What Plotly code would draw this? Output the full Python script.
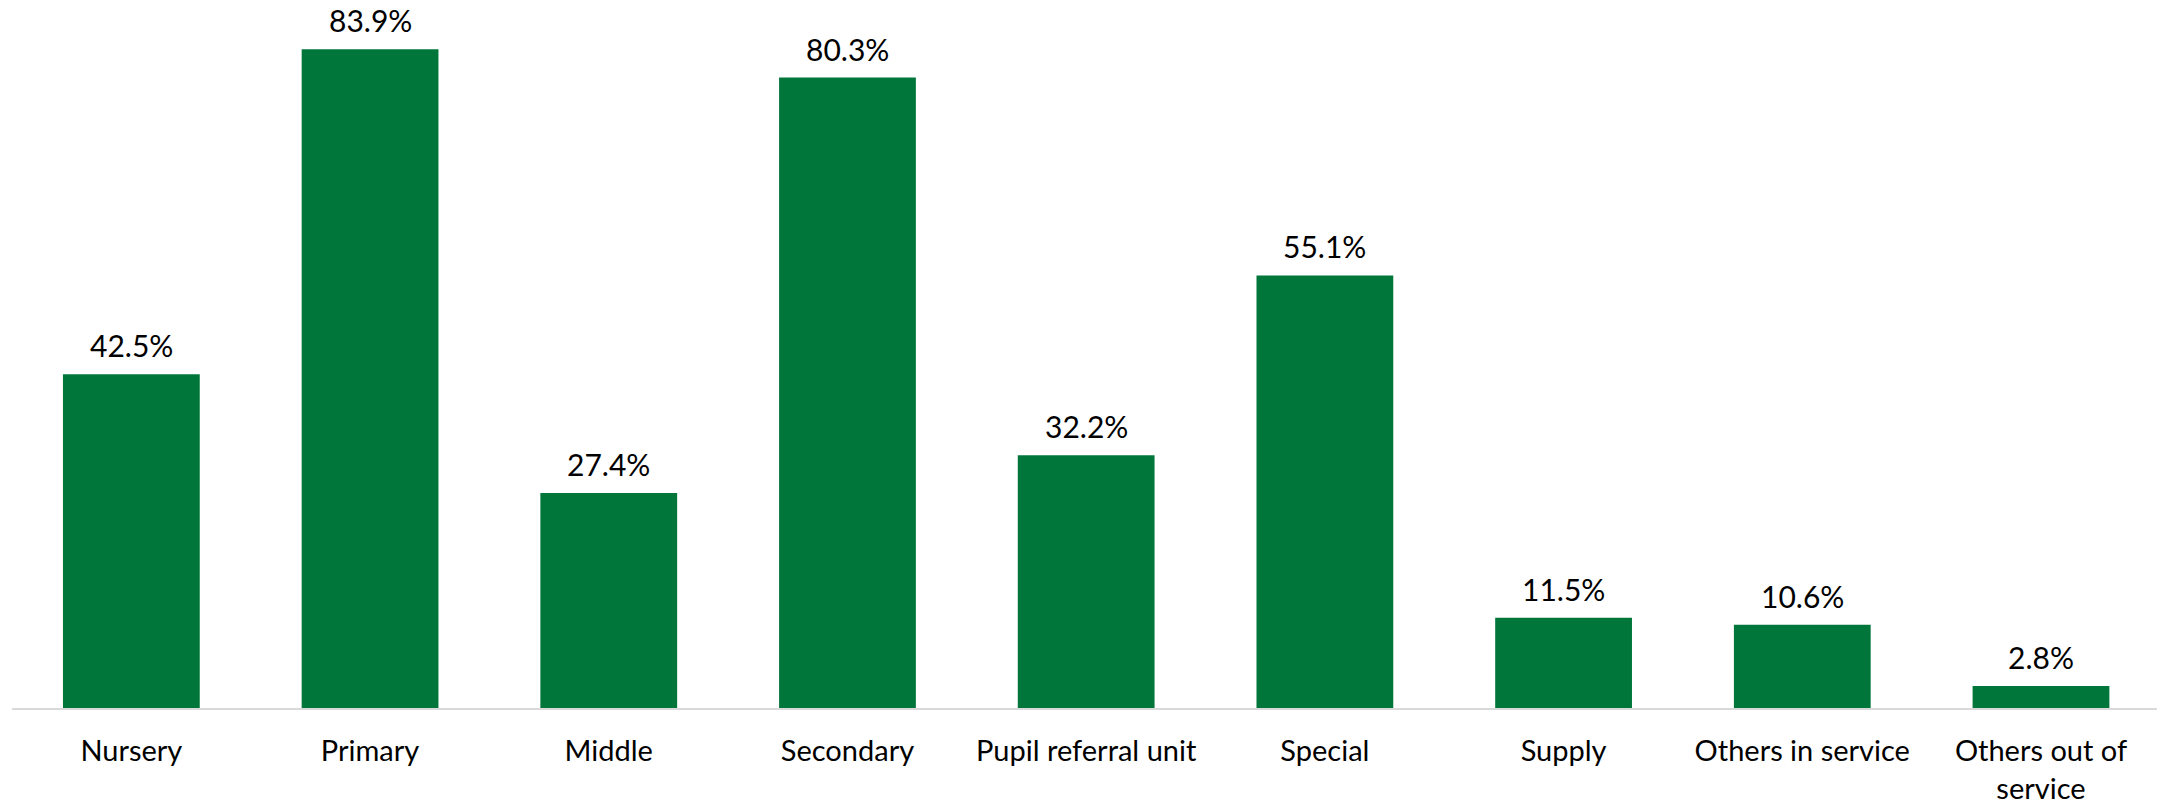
import plotly.graph_objects as go

categories = ["Nursery", "Primary", "Middle", "Secondary", "Pupil referral unit",
              "Special", "Supply", "Others in service", "Others out of<br>service"]
values = [42.5, 83.9, 27.4, 80.3, 32.2, 55.1, 11.5, 10.6, 2.8]
labels = ["%.1f%%" % v for v in values]

green = "rgb(0,118,58)"
font_name = "Lato"

fig = go.Figure(
    data=[go.Bar(
        x=categories,
        y=values,
        marker_color=green,
        marker_line_width=0,
        hovertemplate="%{y:.1f}%<extra></extra>",
    )]
)

# value labels above the bars
for c, v, t in zip(categories, values, labels):
    fig.add_annotation(
        x=c, y=v, text=t, showarrow=False,
        yanchor="bottom", yshift=10, borderpad=0,
        font=dict(family=font_name, size=30, color="black"),
    )

fig.update_layout(
    width=2157,
    height=811,
    bargap=0.427,
    margin={"r": 0, "t": 0, "l": 12, "b": 103},
    plot_bgcolor="white",
    paper_bgcolor="white",
    showlegend=False,
    font=dict(family=font_name, size=29, color="black"),
)

fig.update_xaxes(
    range=[-0.5, 8.486],
    automargin=False,
    showline=True, linecolor="#d9d9d9", linewidth=2,
    ticks="outside", ticklen=16, tickcolor="rgba(0,0,0,0)",
    tickfont=dict(family=font_name, size=29, color="black"),
)
fig.update_yaxes(range=[0, 90.18], visible=False, showgrid=False)

# drop the default body margin so the figure fills the window
fig.write_html(
    "out.html",
    config={"displayModeBar": False},
    post_script="document.body.style.margin='0';",
)
